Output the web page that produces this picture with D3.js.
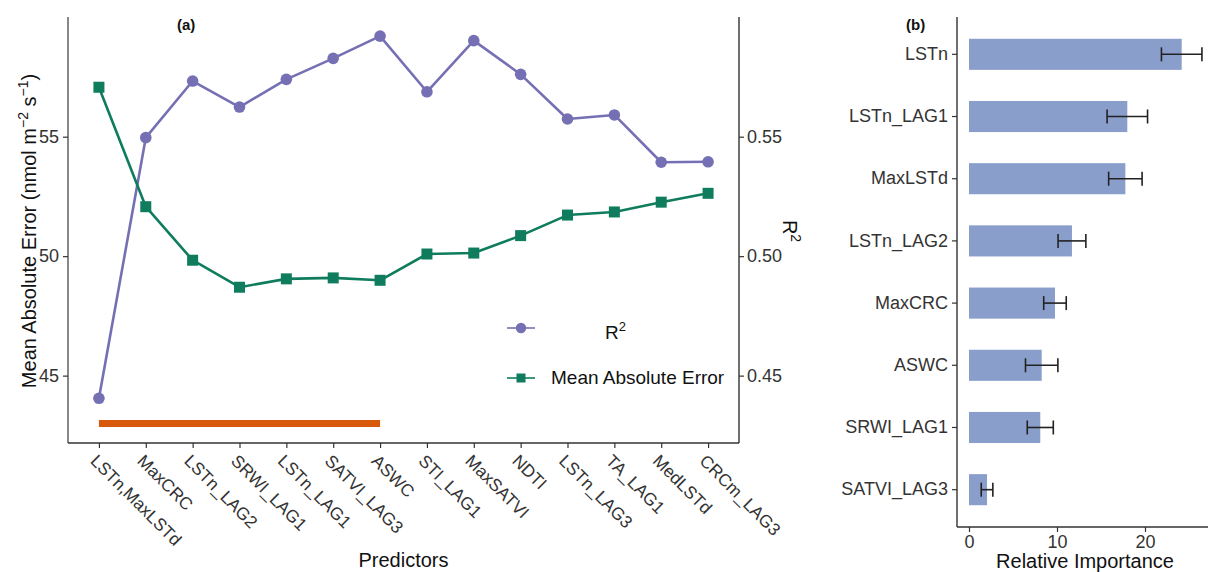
<!DOCTYPE html>
<html>
<head>
<meta charset="utf-8">
<script src="https://cdn.jsdelivr.net/npm/d3@7"></script>
<style>
  html, body { margin: 0; padding: 0; background: #fff; }
  svg { display: block; font-family: "Liberation Sans", Arial, sans-serif; }
</style>
</head>
<body>
<svg id="chart" width="1208" height="572"></svg>
<script>
// ---- Panel (a): forward selection of predictors ----
const predictors = ["LSTn,MaxLSTd", "MaxCRC", "LSTn_LAG2", "SRWI_LAG1", "LSTn_LAG1", "SATVI_LAG3",
  "ASWC", "STI_LAG1", "MaxSATVI", "NDTI", "LSTn_LAG3", "TA_LAG1", "MedLSTd", "CRCm_LAG3"];
const r2Values = [0.4405, 0.5496, 0.5733, 0.5624, 0.5740, 0.5828, 0.5921, 0.5688, 0.5902, 0.5761,
  0.5574, 0.5591, 0.5393, 0.5395];
const maeValues = [57.07, 52.07, 49.83, 48.70, 49.05, 49.09, 48.99, 50.09, 50.13, 50.86, 51.72,
  51.85, 52.26, 52.63];
const maeTicks = [45, 50, 55];
const r2Ticks = [0.45, 0.50, 0.55];
// selected predictor set (first to last kept variable) marked at MAE = 43
const selectedFrom = "LSTn,MaxLSTd";
const selectedTo = "ASWC";
const selectedLevel = 43;

// ---- Panel (b): relative importance of the selected predictors ----
const importanceVars = ["LSTn", "LSTn_LAG1", "MaxLSTd", "LSTn_LAG2", "MaxCRC", "ASWC", "SRWI_LAG1", "SATVI_LAG3"];
const importance = [24.17, 17.99, 17.77, 11.70, 9.77, 8.26, 8.10, 2.05];
const importanceSd = [2.3, 2.3, 1.9, 1.58, 1.28, 1.84, 1.48, 0.66];
const importanceTicks = [0, 10, 20];

const purple = "#7570b3", green = "#0f7d5d", orange = "#d8590b", barFill = "#8a9ecb";
const axisCol = "#333", textCol = "#333";

const svg = d3.select("#chart");

// ===== Panel (a) =====
const a = { left: 68, right: 739, top: 17, bottom: 443 };
const x = d3.scalePoint().domain(predictors).range([a.left, a.right]).padding(0.66);
const yMae = d3.scaleLinear().domain([42.18, 60.01]).range([a.bottom, a.top]);
const yR2 = d3.scaleLinear().domain([0.4218, 0.6001]).range([a.bottom, a.top]);

const gA = svg.append("g");

// selected-set bar
gA.append("line")
  .attr("x1", x(selectedFrom)).attr("x2", x(selectedTo))
  .attr("y1", yMae(selectedLevel)).attr("y2", yMae(selectedLevel))
  .attr("stroke", orange).attr("stroke-width", 7);

// R2 line + points
gA.append("path")
  .datum(predictors.map((p, i) => [p, r2Values[i]]))
  .attr("fill", "none").attr("stroke", purple).attr("stroke-width", 2.6)
  .attr("stroke-linejoin", "round")
  .attr("d", d3.line().x(d => x(d[0])).y(d => yR2(d[1])));
gA.selectAll("circle.r2").data(predictors).join("circle")
  .attr("class", "r2")
  .attr("cx", d => x(d)).attr("cy", (d, i) => yR2(r2Values[i]))
  .attr("r", 5.8).attr("fill", purple);

// MAE line + points
gA.append("path")
  .datum(predictors.map((p, i) => [p, maeValues[i]]))
  .attr("fill", "none").attr("stroke", green).attr("stroke-width", 2.6)
  .attr("stroke-linejoin", "round")
  .attr("d", d3.line().x(d => x(d[0])).y(d => yMae(d[1])));
gA.selectAll("rect.mae").data(predictors).join("rect")
  .attr("class", "mae")
  .attr("x", d => x(d) - 5.5).attr("y", (d, i) => yMae(maeValues[i]) - 5.5)
  .attr("width", 11).attr("height", 11).attr("fill", green);

// axes of panel (a)
const leftAxis = gA.append("g").attr("transform", `translate(${a.left},0)`)
  .call(d3.axisLeft(yMae).tickValues(maeTicks).tickSize(5).tickPadding(4).tickFormat(d3.format("d")));
const rightAxis = gA.append("g").attr("transform", `translate(${a.right},0)`)
  .call(d3.axisRight(yR2).tickValues(r2Ticks).tickSize(5).tickPadding(3).tickFormat(d3.format(".2f")));
const bottomAxis = gA.append("g").attr("transform", `translate(0,${a.bottom})`)
  .call(d3.axisBottom(x).tickSize(5).tickSizeOuter(0));

[leftAxis, rightAxis, bottomAxis].forEach(g => {
  g.select(".domain").attr("stroke", axisCol).attr("stroke-width", 1.4);
  g.selectAll(".tick line").attr("stroke", axisCol).attr("stroke-width", 1.2);
  g.selectAll("text").attr("fill", textCol).attr("font-size", 18)
    .style("font-family", "'Liberation Sans', Arial, sans-serif");
});
leftAxis.select(".domain").attr("d", `M0,${a.top}V${a.bottom}`).attr("stroke", "#555");
rightAxis.select(".domain").attr("d", `M0,${a.top}V${a.bottom}`);
bottomAxis.select(".domain").attr("d", `M${a.left},0H${a.right}`);

bottomAxis.selectAll(".tick text")
  .attr("text-anchor", "start")
  .attr("dy", null).attr("y", null)
  .attr("font-size", 17.3)
  .attr("transform", "translate(-10,19) rotate(45)");

// axis titles (a)
const leftTitle = gA.append("text")
  .attr("transform", `translate(36,${(a.top + a.bottom) / 2 + 1}) rotate(-90)`)
  .attr("text-anchor", "middle").attr("font-size", 20).attr("fill", "#111");
leftTitle.append("tspan").text("Mean Absolute Error (nmol m");
leftTitle.append("tspan").attr("dy", -8).attr("font-size", 14).text("\u22122");
leftTitle.append("tspan").attr("dy", 8).text(" s");
leftTitle.append("tspan").attr("dy", -8).attr("font-size", 14).text("\u22121");
leftTitle.append("tspan").attr("dy", 8).text(")");

const rightTitle = gA.append("text")
  .attr("transform", `translate(783,231) rotate(90)`)
  .attr("text-anchor", "middle").attr("font-size", 20).attr("fill", "#111");
rightTitle.append("tspan").text("R");
rightTitle.append("tspan").attr("dy", -8).attr("font-size", 14).text("2");

gA.append("text").attr("x", (a.left + a.right) / 2).attr("y", 567)
  .attr("text-anchor", "middle").attr("font-size", 20).attr("fill", "#111").text("Predictors");

gA.append("text").attr("x", 177).attr("y", 30)
  .attr("font-size", 15).attr("font-weight", "bold").attr("fill", "#111").text("(a)");

// legend
const legend = gA.append("g");
const lgItems = [
  { y: 328, color: purple, shape: "circle" },
  { y: 378, color: green, shape: "square" }
];
lgItems.forEach(it => {
  legend.append("line").attr("x1", 507).attr("x2", 535).attr("y1", it.y).attr("y2", it.y)
    .attr("stroke", it.color).attr("stroke-width", 1.6);
  if (it.shape === "circle") {
    legend.append("circle").attr("cx", 521).attr("cy", it.y).attr("r", 5.2).attr("fill", it.color);
  } else {
    legend.append("rect").attr("x", 516.5).attr("y", it.y - 4.5).attr("width", 9).attr("height", 9)
      .attr("fill", it.color);
  }
});
const lgR2 = legend.append("text").attr("x", 605).attr("y", 339).attr("font-size", 19).attr("fill", "#111");
lgR2.append("tspan").text("R");
lgR2.append("tspan").attr("dy", -8).attr("font-size", 13).text("2");
legend.append("text").attr("x", 551).attr("y", 384).attr("font-size", 19).attr("fill", "#111")
  .text("Mean Absolute Error");

// ===== Panel (b) =====
const b = { left: 957, right: 1208, top: 17, bottom: 527 };
const xb = d3.scaleLinear().domain([-1.364, 27.16]).range([b.left, b.right]);
const yb = d3.scaleBand().domain(importanceVars).range([b.top, b.bottom])
  .paddingInner(0.5).paddingOuter(0.35);

const gB = svg.append("g");
gB.selectAll("rect.bar").data(importanceVars).join("rect")
  .attr("class", "bar")
  .attr("x", xb(0)).attr("y", d => yb(d))
  .attr("width", (d, i) => xb(importance[i]) - xb(0))
  .attr("height", yb.bandwidth()).attr("fill", barFill);

// error bars
const capHalf = 7;
const eb = gB.selectAll("g.err").data(importanceVars).join("g").attr("class", "err")
  .attr("stroke", "#222").attr("stroke-width", 1.6);
eb.append("line")
  .attr("x1", (d, i) => xb(importance[i] - importanceSd[i]))
  .attr("x2", (d, i) => xb(importance[i] + importanceSd[i]))
  .attr("y1", d => yb(d) + yb.bandwidth() / 2).attr("y2", d => yb(d) + yb.bandwidth() / 2);
eb.append("line")
  .attr("x1", (d, i) => xb(importance[i] - importanceSd[i]))
  .attr("x2", (d, i) => xb(importance[i] - importanceSd[i]))
  .attr("y1", d => yb(d) + yb.bandwidth() / 2 - capHalf).attr("y2", d => yb(d) + yb.bandwidth() / 2 + capHalf);
eb.append("line")
  .attr("x1", (d, i) => xb(importance[i] + importanceSd[i]))
  .attr("x2", (d, i) => xb(importance[i] + importanceSd[i]))
  .attr("y1", d => yb(d) + yb.bandwidth() / 2 - capHalf).attr("y2", d => yb(d) + yb.bandwidth() / 2 + capHalf);

const bLeft = gB.append("g").attr("transform", `translate(${b.left},0)`)
  .call(d3.axisLeft(yb).tickSize(5).tickPadding(4).tickSizeOuter(0));
const bBottom = gB.append("g").attr("transform", `translate(0,${b.bottom})`)
  .call(d3.axisBottom(xb).tickValues(importanceTicks).tickSize(5).tickPadding(3).tickFormat(d3.format("d")));
[bLeft, bBottom].forEach(g => {
  g.select(".domain").attr("stroke", axisCol).attr("stroke-width", 1.4);
  g.selectAll(".tick line").attr("stroke", axisCol).attr("stroke-width", 1.2);
  g.selectAll("text").attr("fill", textCol).attr("font-size", 18)
    .style("font-family", "'Liberation Sans', Arial, sans-serif");
});
bLeft.select(".domain").attr("d", `M0,${b.top}V${b.bottom}`);
bBottom.select(".domain").attr("d", `M${b.left},0H${b.right}`);

gB.append("text").attr("x", 1085).attr("y", 568).attr("text-anchor", "middle")
  .attr("font-size", 20).attr("fill", "#111").text("Relative Importance");
gB.append("text").attr("x", 906).attr("y", 30)
  .attr("font-size", 15).attr("font-weight", "bold").attr("fill", "#111").text("(b)");
</script>
</body>
</html>
